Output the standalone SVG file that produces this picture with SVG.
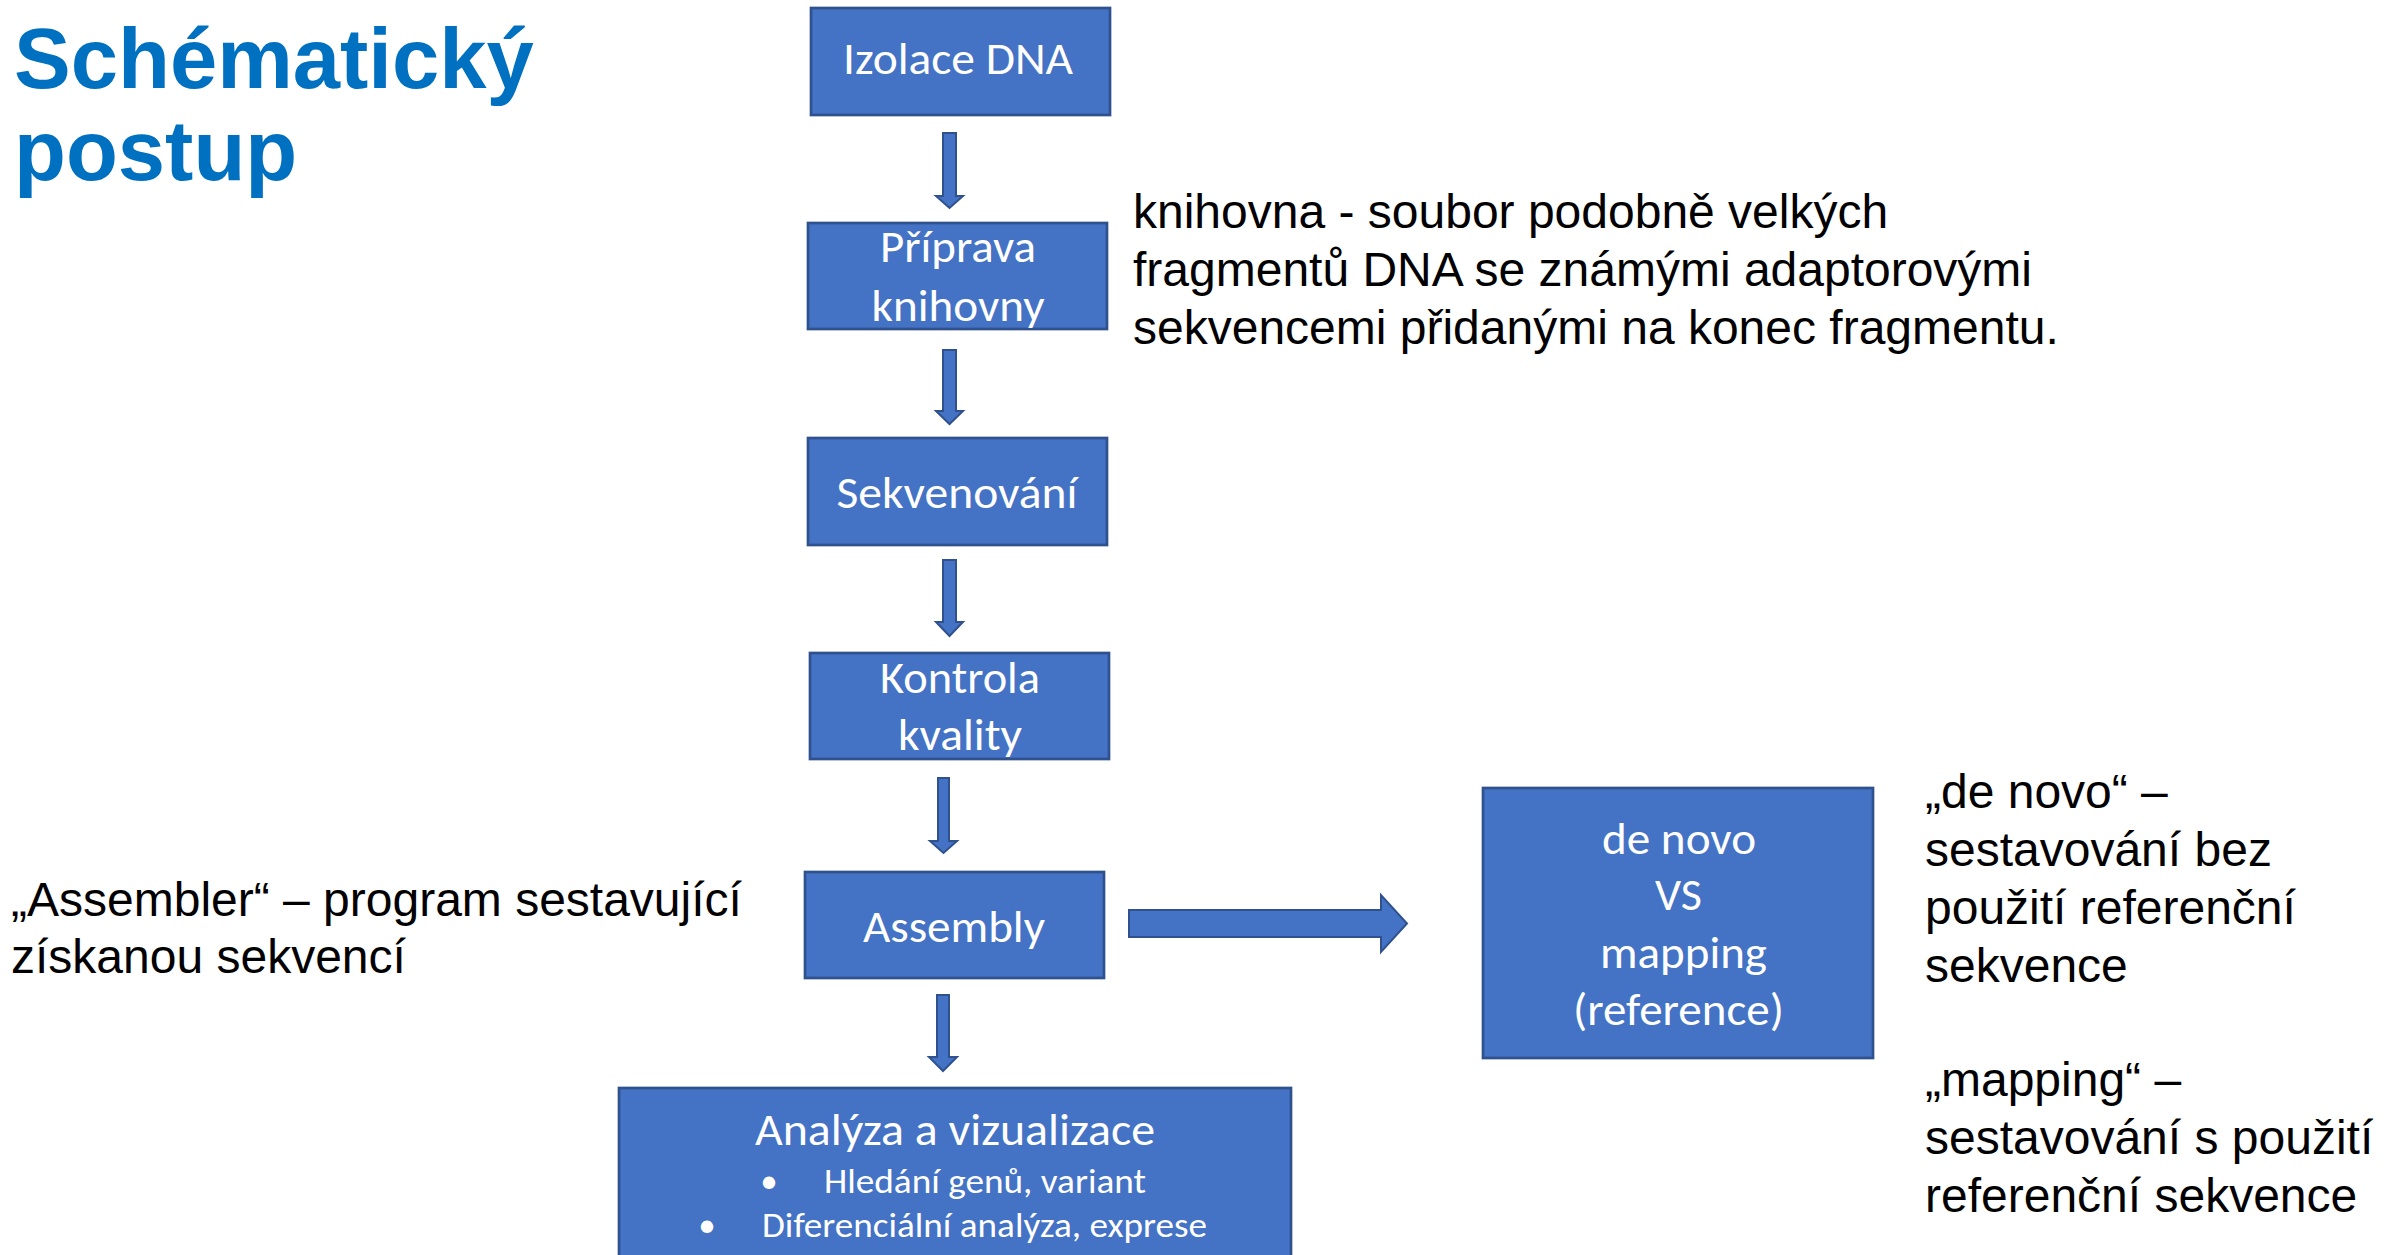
<svg xmlns="http://www.w3.org/2000/svg" width="2392" height="1255" viewBox="0 0 2392 1255">
<style>
.box{fill:#4472C4;stroke:#2F528F;stroke-width:2.7}
.arr{fill:#4472C4;stroke:#2F528F;stroke-width:2}
.lbl{font-family:Carlito,Calibri,Lato,"Noto Sans",sans-serif;font-size:45px;fill:#FFFFFF;text-anchor:middle}
.sm{font-size:35px}
.txt{font-family:"Liberation Sans",Arial,sans-serif;font-size:48px;fill:#000000}
.title{font-family:"Liberation Sans",Arial,sans-serif;font-size:85px;font-weight:bold;fill:#0070C0}
</style>
<rect width="2392" height="1255" fill="#FFFFFF"/>
<g id="title">
<text class="title" x="14" y="88">Schématický</text>
<text class="title" x="14" y="180">postup</text>
</g>
<g id="connectors">
<polygon class="arr" points="943,133 956,133 956,196 963,196 949.5,208 936,196 943,196"/>
<polygon class="arr" points="943,350 956,350 956,411 963,411 949.5,424 936,411 943,411"/>
<polygon class="arr" points="943,560 956,560 956,622 963,622 949.5,636 936,622 943,622"/>
<polygon class="arr" points="938,778 949,778 949,841 957,841 943.5,853 930,841 938,841"/>
<polygon class="arr" points="937,995 949,995 949,1057 957,1057 943,1071 929,1057 937,1057"/>
<polygon class="arr" points="1129,910 1381,910 1381,895 1407,923.5 1381,952 1381,937 1129,937"/>
</g>
<g id="node-izolace">
<rect class="box" x="811" y="8" width="299" height="107"/>
<text class="lbl" x="958" y="74" textLength="230" lengthAdjust="spacingAndGlyphs">Izolace DNA</text>
</g>
<g id="node-priprava">
<rect class="box" x="808" y="223" width="299" height="106"/>
<text class="lbl" x="958" y="262" textLength="156" lengthAdjust="spacingAndGlyphs">Příprava</text>
<text class="lbl" x="958" y="321" textLength="173" lengthAdjust="spacingAndGlyphs">knihovny</text>
</g>
<g id="node-sekvenovani">
<rect class="box" x="808" y="438" width="299" height="107"/>
<text class="lbl" x="957" y="508" textLength="241" lengthAdjust="spacingAndGlyphs">Sekvenování</text>
</g>
<g id="node-kontrola">
<rect class="box" x="810" y="653" width="299" height="106"/>
<text class="lbl" x="960" y="693" textLength="160" lengthAdjust="spacingAndGlyphs">Kontrola</text>
<text class="lbl" x="960" y="750" textLength="124" lengthAdjust="spacingAndGlyphs">kvality</text>
</g>
<g id="node-assembly">
<rect class="box" x="805" y="872" width="299" height="106"/>
<text class="lbl" x="954" y="942" textLength="182" lengthAdjust="spacingAndGlyphs">Assembly</text>
</g>
<g id="node-analyza">
<rect class="box" x="619" y="1088" width="672" height="180"/>
<text class="lbl" x="955" y="1145" textLength="400" lengthAdjust="spacingAndGlyphs">Analýza a vizualizace</text>
<text class="lbl sm" x="769" y="1193">•</text>
<text class="lbl sm" x="985" y="1193" textLength="322" lengthAdjust="spacingAndGlyphs">Hledání genů, variant</text>
<text class="lbl sm" x="707" y="1237">•</text>
<text class="lbl sm" x="984.5" y="1237" textLength="445" lengthAdjust="spacingAndGlyphs">Diferenciální analýza, exprese</text>
</g>
<g id="node-denovo">
<rect class="box" x="1483" y="788" width="390" height="270"/>
<text class="lbl" x="1679" y="854" textLength="154" lengthAdjust="spacingAndGlyphs">de novo</text>
<text class="lbl" x="1678.5" y="910" textLength="47" lengthAdjust="spacingAndGlyphs">VS</text>
<text class="lbl" x="1683.5" y="968" textLength="167" lengthAdjust="spacingAndGlyphs">mapping</text>
<text class="lbl" x="1678.5" y="1025" textLength="211" lengthAdjust="spacingAndGlyphs">(reference)</text>
</g>
<g id="note-knihovna">
<text class="txt" x="1133" y="228">knihovna - soubor podobně velkých</text>
<text class="txt" x="1133" y="286">fragmentů DNA se známými adaptorovými</text>
<text class="txt" x="1133" y="344">sekvencemi přidanými na konec fragmentu.</text>
</g>
<g id="note-assembler">
<text class="txt" x="11" y="916">„Assembler“ – program sestavující</text>
<text class="txt" x="11" y="973">získanou sekvencí</text>
</g>
<g id="note-denovo">
<text class="txt" x="1925" y="808">„de novo“ –</text>
<text class="txt" x="1925" y="866">sestavování bez</text>
<text class="txt" x="1925" y="924">použití referenční</text>
<text class="txt" x="1925" y="982">sekvence</text>
</g>
<g id="note-mapping">
<text class="txt" x="1925" y="1096">„mapping“ –</text>
<text class="txt" x="1925" y="1154">sestavování s použití</text>
<text class="txt" x="1925" y="1212">referenční sekvence</text>
</g>
</svg>
